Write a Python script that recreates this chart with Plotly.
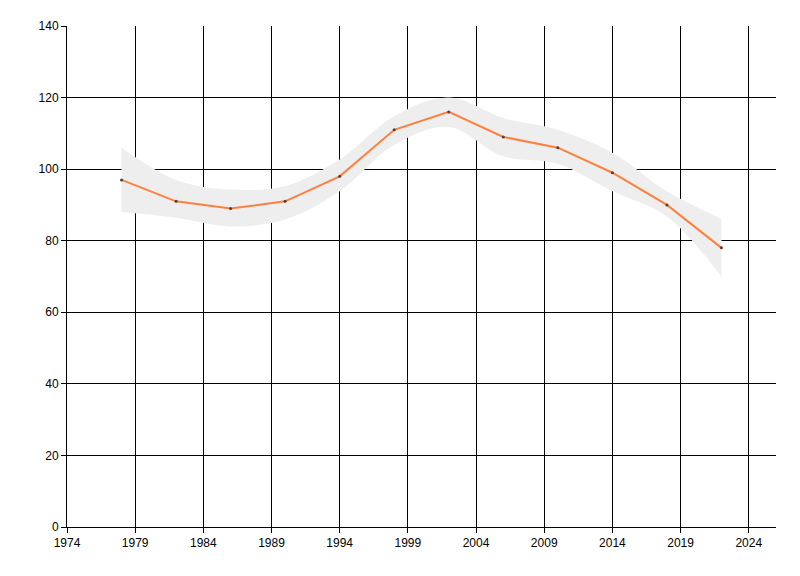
import plotly.graph_objects as go

years = [1978, 1982, 1986, 1990, 1994, 1998, 2002, 2006, 2010, 2014, 2018, 2022]
values = [97, 91, 89, 91, 98, 111, 116, 109, 106, 99, 90, 78]
band_upper = [106, 97, 94.3, 95.3, 102.7, 114.8, 120, 114.3, 111, 104.6, 93.8, 86.1]
band_lower = [88, 86.4, 84.0, 85.9, 93.8, 106.8, 111.8, 103.6, 101.5, 93.8, 86.8, 70.0]

fig = go.Figure()
fig.add_trace(go.Scatter(x=years, y=band_upper, mode="lines",
                         line=dict(width=0, shape="spline", smoothing=1.0),
                         hoverinfo="skip", showlegend=False))
fig.add_trace(go.Scatter(x=years, y=band_lower, mode="lines",
                         line=dict(width=0, shape="spline", smoothing=1.0),
                         fill="tonexty", fillcolor="#EEEEEE",
                         hoverinfo="skip", showlegend=False))
fig.add_trace(go.Scatter(x=years, y=values, mode="lines+markers",
                         line=dict(color="#FF7F3F", width=2),
                         marker=dict(color="#444444", size=3),
                         showlegend=False))

axis_common = dict(
    showgrid=True, gridcolor="black", gridwidth=1,
    showline=True, linecolor="black", linewidth=1,
    ticks="outside", ticklen=5, tickcolor="black",
    tickfont=dict(family="Liberation Sans, Arial", size=12, color="black"),
    zeroline=False, automargin=False,
)
fig.update_xaxes(range=[1974, 2026], tick0=1974, dtick=5, **axis_common)
fig.update_yaxes(range=[0, 140], tick0=0, dtick=20, **axis_common)

fig.update_layout(
    width=792, height=568,
    margin=dict(l=59, r=24, t=18, b=49),
    plot_bgcolor="white", paper_bgcolor="white",
)
fig.write_html("out.html")
